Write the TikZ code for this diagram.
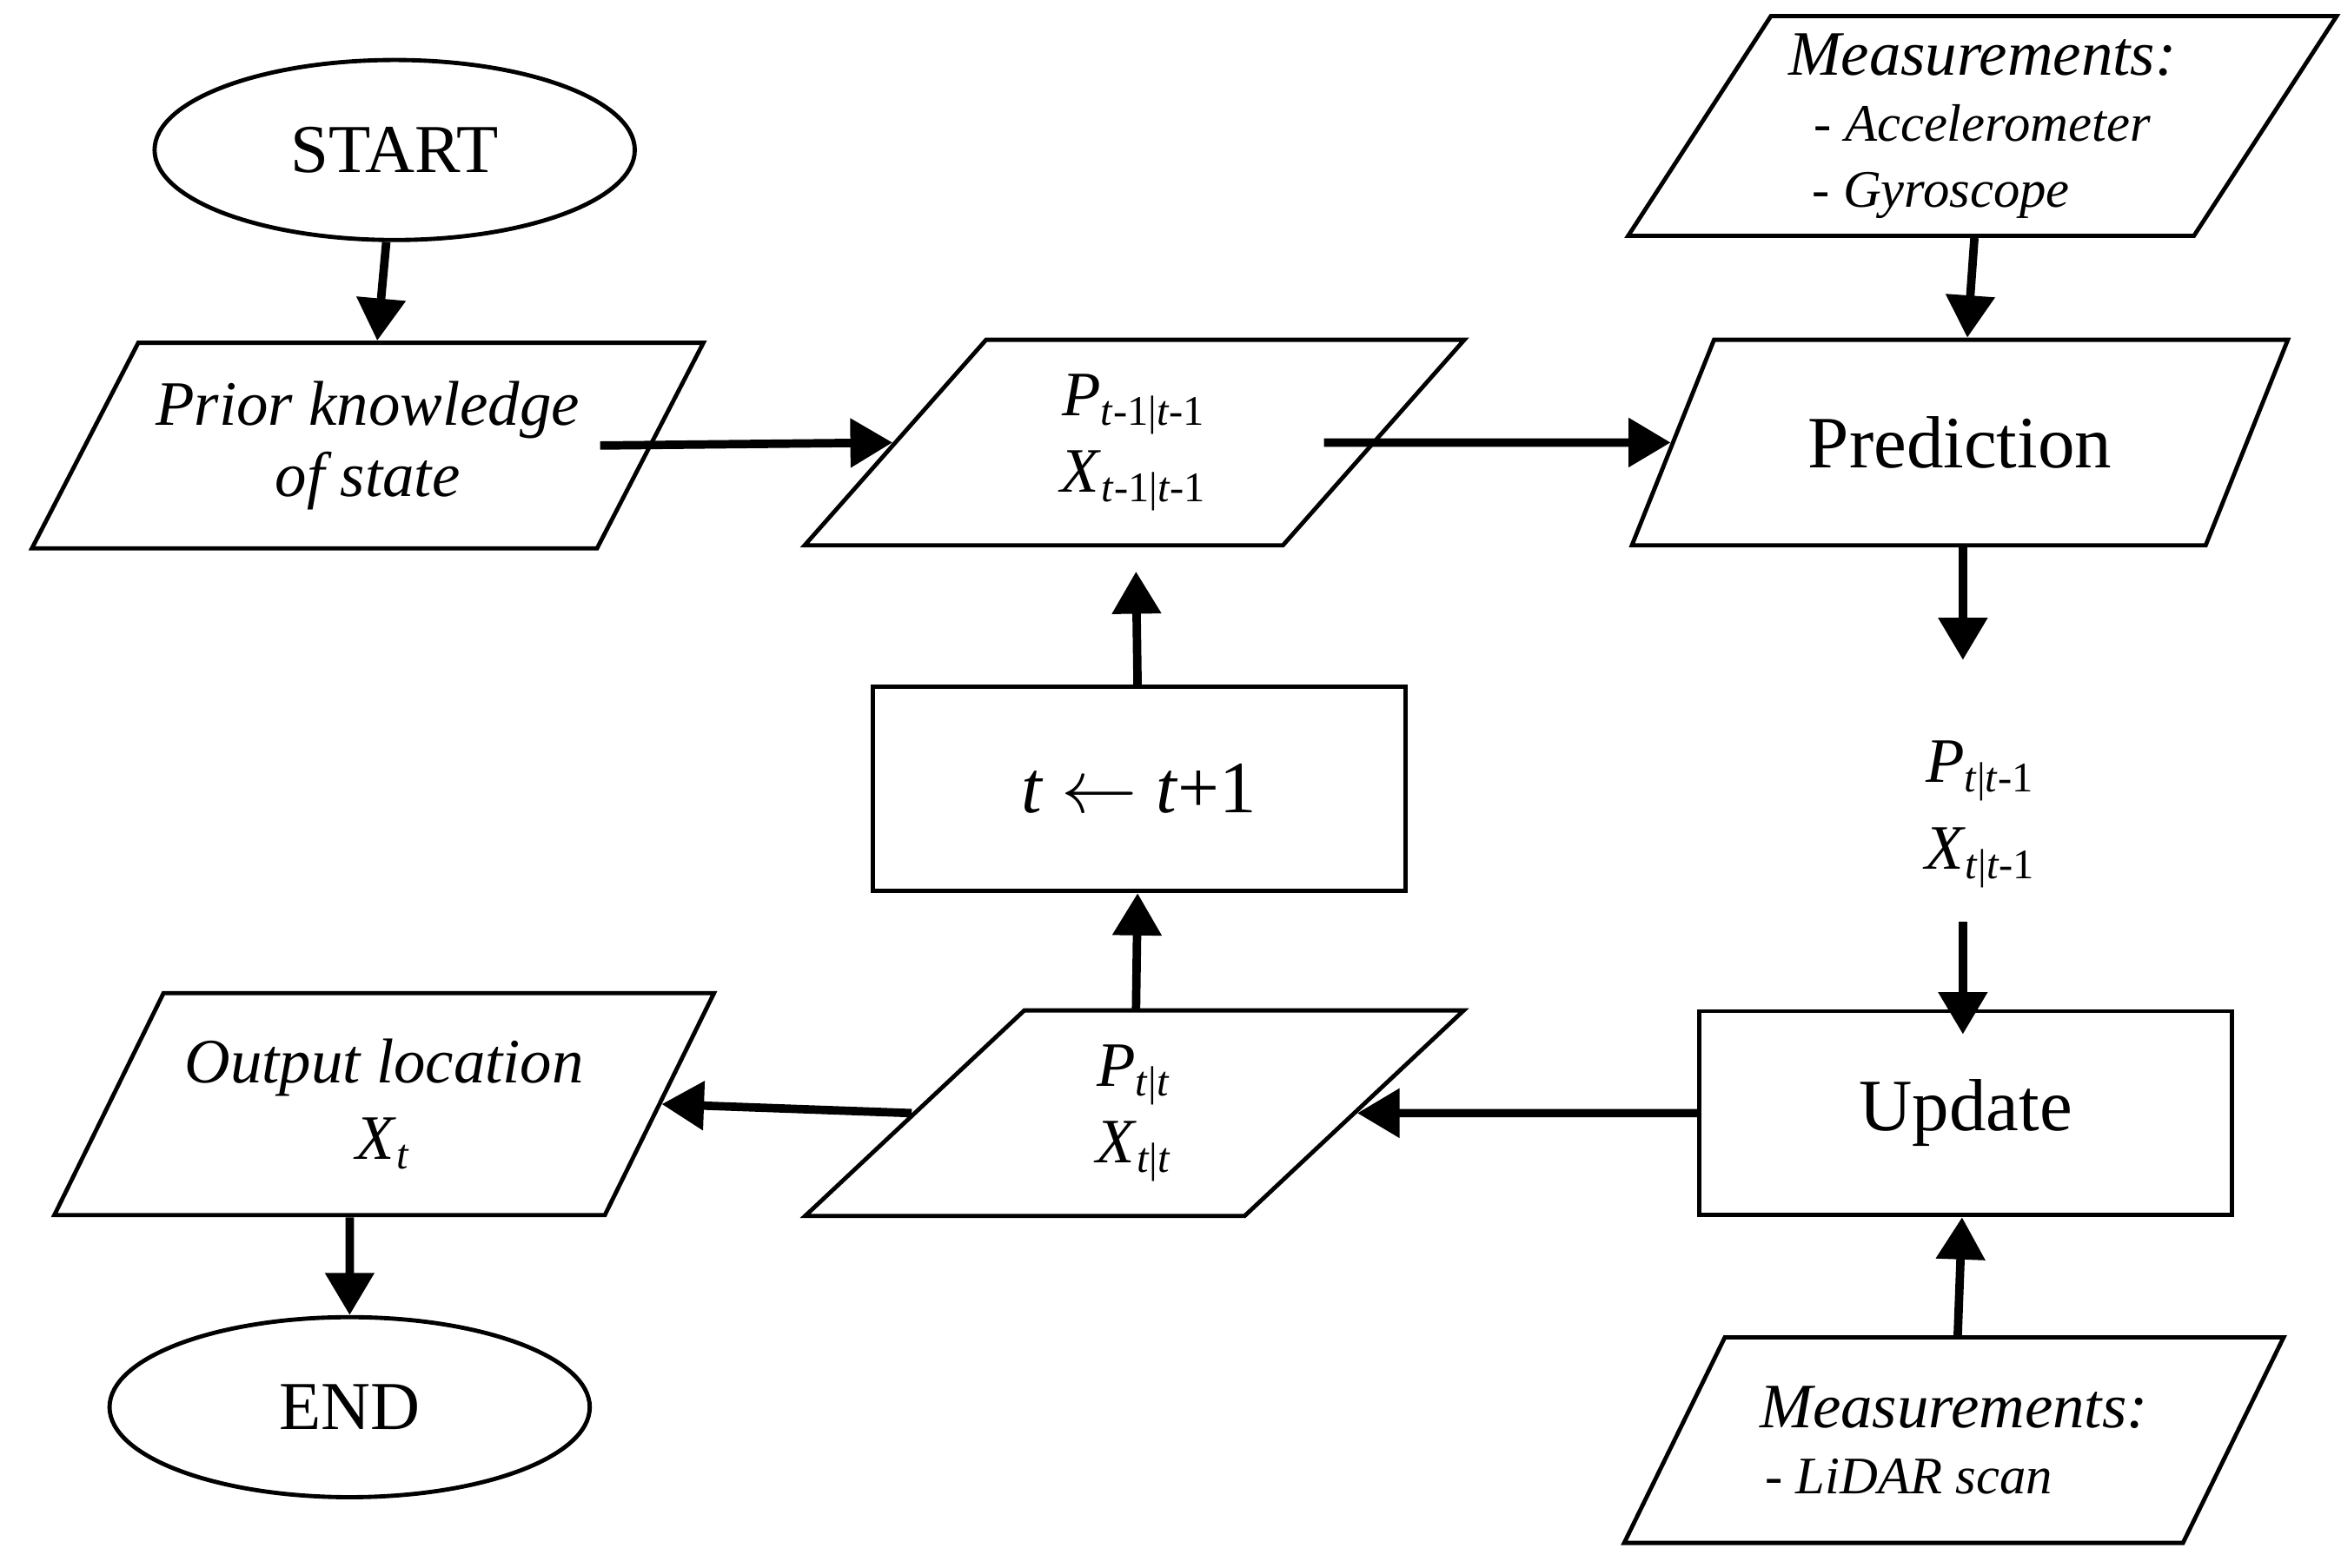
\documentclass[tikz,border=0pt]{standalone}
\usepackage{fontspec}
\setmainfont{Liberation Serif}
\usetikzlibrary{shapes.geometric,arrows.meta}
\tikzset{
  io/.style={draw,thick,trapezium,trapezium left angle=57,trapezium right angle=123,
    trapezium stretches=true,minimum width=4.4cm,minimum height=1.37cm,align=center},
  term/.style={draw,thick,ellipse,minimum width=3.2cm,minimum height=1.2cm,font=\fontsize{13}{16}\selectfont},
  proc/.style={draw,thick,rectangle,minimum width=3.55cm,minimum height=1.36cm},
  flow/.style={-{Triangle[length=8pt,width=9pt]},line width=1.6pt}
}
\newcommand{\sub}[1]{\textsubscript{#1}}
\begin{document}
\begin{tikzpicture}[font=\fontsize{12}{14.5}\selectfont]
   \useasboundingbox (0,0) rectangle (15.6,10.45);
   \node[term] (start) at (2.63,9.45) {START};
   \node[io] (prior) at (2.45,7.48) {\textit{Prior knowledge}\\[-1pt]\textit{of state}};
   \node[io] (pold) at (7.56,7.50) {\textit{P}\sub{\textit{t}-1|\textit{t}-1}\\\textit{X}\sub{\textit{t}-1|\textit{t}-1}};
   \node[io] (pred) at (13.06,7.50) {\fontsize{14}{17}\selectfont Prediction};
   \node[io] (meas1) at (13.21,9.61) {\textit{Measurements:}\\[-2pt]
     {\fontsize{10}{12}\selectfont\textit{- Accelerometer}}\\[-2pt]
     {\fontsize{10}{12}\selectfont\textit{- Gyroscope}\hspace*{0.55cm}}};
   \node[align=center] (pprior) at (13.2,5.02) {\textit{P}\sub{\textit{t}|\textit{t}-1}\\[2pt]\textit{X}\sub{\textit{t}|\textit{t}-1}};
   \node[proc,font=\fontsize{14}{17}\selectfont] (update) at (13.10,3.03) {Update};
   \node[io] (meas2) at (13.02,0.85) {\textit{Measurements:}\\[-2pt]
     {\fontsize{10}{12}\selectfont\textit{- LiDAR scan}}\hspace*{0.6cm}};
   \node[io] (pnew) at (7.56,3.03) {\textit{P}\sub{\textit{t}|\textit{t}}\\\textit{X}\sub{\textit{t}|\textit{t}}};
   \node[proc,font=\fontsize{14}{17}\selectfont] (step) at (7.59,5.19) {\textit{t} $\leftarrow$ \textit{t}+1};
   \node[io,minimum height=1.48cm] (out) at (2.56,3.09) {\textit{Output location}\\\textit{X}\sub{\textit{t}}};
   \node[term] (end) at (2.33,1.07) {END};

   \draw[flow] (start) -- (prior);
   \draw[flow] (prior.east) ++(-0.35,0) -- (pold.west);
   \draw[flow] (pold.east) ++(-0.35,0) -- (pred.west);
   \draw[flow] (meas1) -- (pred);
   \draw[flow] (pred.south) ++(0.02,0) -- ++(0,-0.75);
   \draw[flow] (pprior.south) ++(-0.12,-0.1) -- ++(0,-0.75);
   \draw[flow] (meas2) -- (update);
   \draw[flow] (update.west) -- (pnew.east);
   \draw[flow] (pnew.west) -- (out.east);
   \draw[flow] (pnew) ++(0.01,0.69) -- (step);
   \draw[flow] (step) -- ++(-0.02,1.45);
   \draw[flow] (out.south) ++(-0.23,0) -- (end);
\end{tikzpicture}
\end{document}
